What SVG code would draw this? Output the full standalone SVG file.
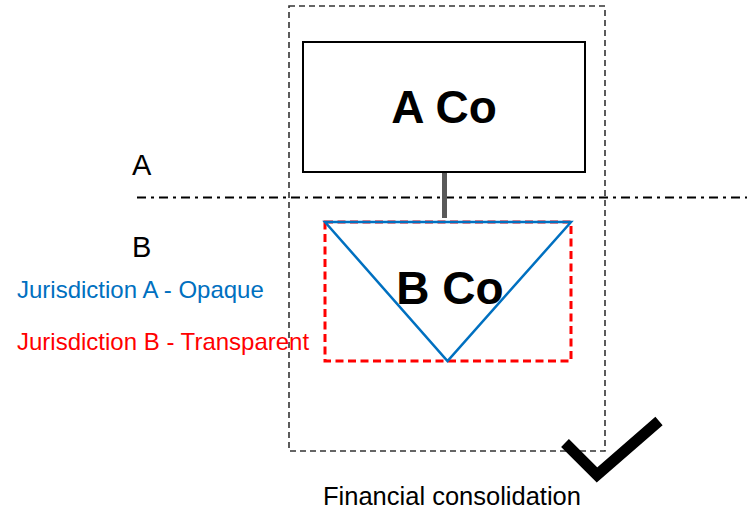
<svg xmlns="http://www.w3.org/2000/svg" width="747" height="510" viewBox="0 0 747 510">
  <defs>
    <style>
      .lbl { font-family: "Liberation Sans", Arial, sans-serif; }
      .co { font-family: "Liberation Sans", Arial, sans-serif; font-weight: bold; font-size: 46px; text-anchor: middle; fill: #000; }
      .scope { fill: none; stroke: #333; stroke-width: 1.6; stroke-dasharray: 6 4; }
    </style>
  </defs>
  <rect width="747" height="510" fill="#fff"/>

  <!-- consolidation boundary -->
  <rect id="scope" class="scope" x="289" y="6" width="316" height="445"/>

  <!-- jurisdiction divider -->
  <line id="divider" x1="137" y1="197.5" x2="747" y2="197.5" stroke="#000" stroke-width="2.2" stroke-dasharray="9 5 3 5"/>

  <g id="labels" class="lbl">
    <text x="132" y="175" font-size="29" fill="#000">A</text>
    <text x="132" y="257" font-size="29" fill="#000">B</text>
    <text x="17" y="298" font-size="24" fill="#0070C0">Jurisdiction A - Opaque</text>
    <text x="17" y="350" font-size="24" fill="#FF0000">Jurisdiction B - Transparent</text>
  </g>

  <g id="connectors">
    <line x1="444.5" y1="172" x2="444.5" y2="218" stroke="#595959" stroke-width="5"/>
  </g>

  <g id="a-co">
    <rect x="303" y="42" width="282" height="130" fill="#fff" stroke="#000" stroke-width="2"/>
    <text class="co" x="444" y="123">A Co</text>
  </g>

  <g id="b-co">
    <rect x="325" y="222" width="246" height="139" fill="none" stroke="#FF0000" stroke-width="3" stroke-dasharray="8 4.5"/>
    <polygon points="325,222 571,222 447.5,361" fill="none" stroke="#0070C0" stroke-width="2.5" stroke-linejoin="miter"/>
    <text class="co" x="450" y="304">B Co</text>
  </g>

  <g id="check">
    <polyline points="565,443 597,475 659,421" fill="none" stroke="#000" stroke-width="11" stroke-linejoin="miter" stroke-linecap="butt"/>
  </g>

  <text id="caption" class="lbl" x="323" y="505" font-size="25.5" fill="#000">Financial consolidation</text>
</svg>
